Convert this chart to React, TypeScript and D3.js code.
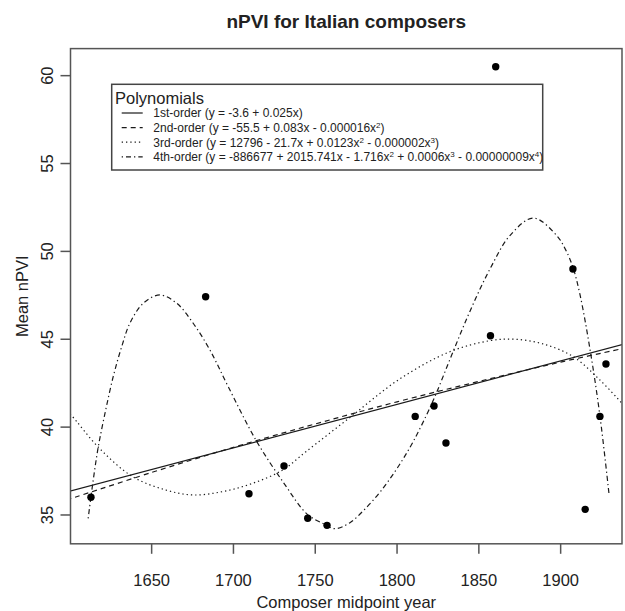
import React from "react";
import * as d3 from "d3";

// ---- data ----
const years = [1612.9, 1683.0, 1709.5, 1730.9, 1745.4, 1757.2, 1811.1, 1822.6, 1829.9, 1857.1, 1860.3, 1907.5, 1915.0, 1924.0, 1927.7];
const npvi = [36.01, 47.42, 36.21, 37.79, 34.81, 34.41, 40.61, 41.2, 39.1, 45.2, 60.51, 49.0, 35.32, 40.61, 43.59];

const linYears = [1598, 1942];
const linVals = [36.3, 44.8];

const quadYears = [1598, 1650, 1700, 1750, 1800, 1850, 1900, 1942];
const quadVals = [35.85, 37.42, 38.85, 40.18, 41.44, 42.6, 43.7, 44.55];

const cubicYears = [1598, 1600.7, 1618.0, 1638.4, 1658.7, 1675.1, 1693.4, 1711.7, 1730.1, 1744.3, 1771.2, 1801.8, 1832.3, 1856.8, 1872.1, 1889.4, 1907.7, 1924.0, 1937.5, 1942];
const cubicVals = [40.9, 40.69, 38.8, 37.18, 36.42, 36.14, 36.33, 36.8, 37.56, 38.6, 40.55, 42.75, 44.29, 44.92, 45.0, 44.73, 44.01, 42.68, 41.35, 40.85];

const quartYears = [1611.2, 1614.3, 1617.4, 1621.5, 1626.5, 1631.7, 1636.7, 1644.9, 1655.1, 1665.3, 1675.4, 1685.6, 1696.8, 1714.0, 1730.9, 1745.0, 1755.0, 1762.0, 1771.0, 1780.0, 1790.0, 1800.0, 1810.0, 1822.0, 1833.4, 1844.6, 1856.8, 1869.0, 1883.3, 1897.6, 1903.0, 1907.5, 1911.8, 1917.9, 1924.0, 1929.7];
const quartVals = [34.81, 36.99, 38.89, 40.79, 42.87, 44.58, 45.91, 47.05, 47.52, 47.05, 45.91, 44.39, 42.3, 39.22, 36.8, 35.05, 34.5, 34.22, 34.55, 35.3, 36.35, 37.65, 39.2, 41.5, 44.1, 46.6, 49.0, 50.9, 51.9, 50.9, 50.1, 49.1, 47.55, 44.45, 40.65, 36.08];

const xTicks = [1650, 1700, 1750, 1800, 1850, 1900];
const yTicks = [35, 40, 45, 50, 55, 60];

const legendTitle = "Polynomials";
const seriesNames = ["1st-order", "2nd-order", "3rd-order", "4th-order"];

const FONT = "'Liberation Sans', Arial, Helvetica, sans-serif";

export default function App() {
  const W = 625;
  const H = 611;
  const left = 70.5, right = 622, top = 48.6, bottom = 543.8;

  const x = d3.scaleLinear().domain([1600.4, 1937.5]).range([left, right]);
  const y = d3.scaleLinear().domain([33.36, 61.54]).range([bottom, top]);

  const mk = (xs: number[], ys: number[]) =>
    d3
      .line<number>()
      .x((_, i) => x(xs[i]))
      .y((v) => y(v))
      .curve(d3.curveCatmullRom.alpha(0.5))(ys) || "";

  const lineCol = "#1a1a1a";
  const styles = [
    { dash: undefined as string | undefined },
    { dash: "5,4" },
    { dash: "1.3,3" },
    { dash: "1.3,3,5,3" },
  ];

  const paths = [
    mk(linYears, linVals),
    mk(quadYears, quadVals),
    mk(cubicYears, cubicVals),
    mk(quartYears, quartVals),
  ];

  const axisCol = "#555";
  const textCol = "#222";

  // legend geometry
  const lgX0 = 111.7, lgY0 = 84.3, lgX1 = 542.7, lgY1 = 170;
  const rowBase = [117.3, 131.9, 146.5, 161.1];
  const sup = (s: string) => (
    <tspan baselineShift="super" fontSize={8}>{s}</tspan>
  );
  const labels = [
    <>{seriesNames[0]} (y = -3.6 + 0.025x)</>,
    <>{seriesNames[1]} (y = -55.5 + 0.083x - 0.000016x{sup("2")})</>,
    <>{seriesNames[2]} (y = 12796 - 21.7x + 0.0123x{sup("2")} - 0.000002x{sup("3")})</>,
    <>{seriesNames[3]} (y = -886677 + 2015.741x - 1.716x{sup("2")} + 0.0006x{sup("3")} - 0.00000009x{sup("4")})</>,
  ];

  return (
    <svg
      width={W}
      height={H}
      style={{ position: "absolute", left: 0, top: 0, display: "block", background: "#fff" }}
      fontFamily={FONT}
    >
      <defs>
        <clipPath id="plotclip">
          <rect x={left} y={top} width={right - left} height={bottom - top} />
        </clipPath>
      </defs>

      {/* title */}
      <text x={(left + right) / 2} y={27.5} textAnchor="middle" fontWeight="bold" fontSize={19} fill={textCol}>
        nPVI for Italian composers
      </text>

      {/* curves */}
      <g clipPath="url(#plotclip)">
        {paths.map((d, i) => (
          <path key={i} d={d} fill="none" stroke={lineCol} strokeWidth={1.2} strokeDasharray={styles[i].dash} />
        ))}
        {years.map((yr, i) => (
          <circle key={i} cx={x(yr)} cy={y(npvi[i])} r={3.7} fill="#000" />
        ))}
      </g>

      {/* box */}
      <rect x={left} y={top} width={right - left} height={bottom - top} fill="none" stroke={axisCol} strokeWidth={1.5} />

      {/* x axis */}
      {xTicks.map((t) => (
        <g key={t}>
          <line x1={x(t)} x2={x(t)} y1={bottom} y2={bottom + 10} stroke={axisCol} strokeWidth={1.5} />
          <text x={x(t)} y={586} textAnchor="middle" fontSize={16.5} fill={textCol}>
            {t}
          </text>
        </g>
      ))}
      <text x={(left + right) / 2} y={607.5} textAnchor="middle" fontSize={16.5} fill={textCol}>
        Composer midpoint year
      </text>

      {/* y axis */}
      {yTicks.map((t) => (
        <g key={t}>
          <line x1={left - 10} x2={left} y1={y(t)} y2={y(t)} stroke={axisCol} strokeWidth={1.5} />
          <text
            transform={`translate(53,${y(t)}) rotate(-90)`}
            textAnchor="middle"
            fontSize={16.5}
            fill={textCol}
          >
            {t}
          </text>
        </g>
      ))}
      <text
        transform={`translate(28,${(top + bottom) / 2}) rotate(-90)`}
        textAnchor="middle"
        fontSize={16.5}
        fill={textCol}
      >
        Mean nPVI
      </text>

      {/* legend */}
      <rect x={lgX0} y={lgY0} width={lgX1 - lgX0} height={lgY1 - lgY0} fill="#fff" stroke="#444" strokeWidth={1.5} />
      <text x={115} y={104} fontSize={16.5} fill={textCol}>
        {legendTitle}
      </text>
      {labels.map((lab, i) => (
        <g key={i}>
          <line
            x1={121.7}
            x2={142.7}
            y1={rowBase[i] - 4.3}
            y2={rowBase[i] - 4.3}
            stroke={lineCol}
            strokeWidth={1.2}
            strokeDasharray={styles[i].dash}
          />
          <text x={153.3} y={rowBase[i]} fontSize={12} fill={textCol}>
            {lab}
          </text>
        </g>
      ))}
    </svg>
  );
}
